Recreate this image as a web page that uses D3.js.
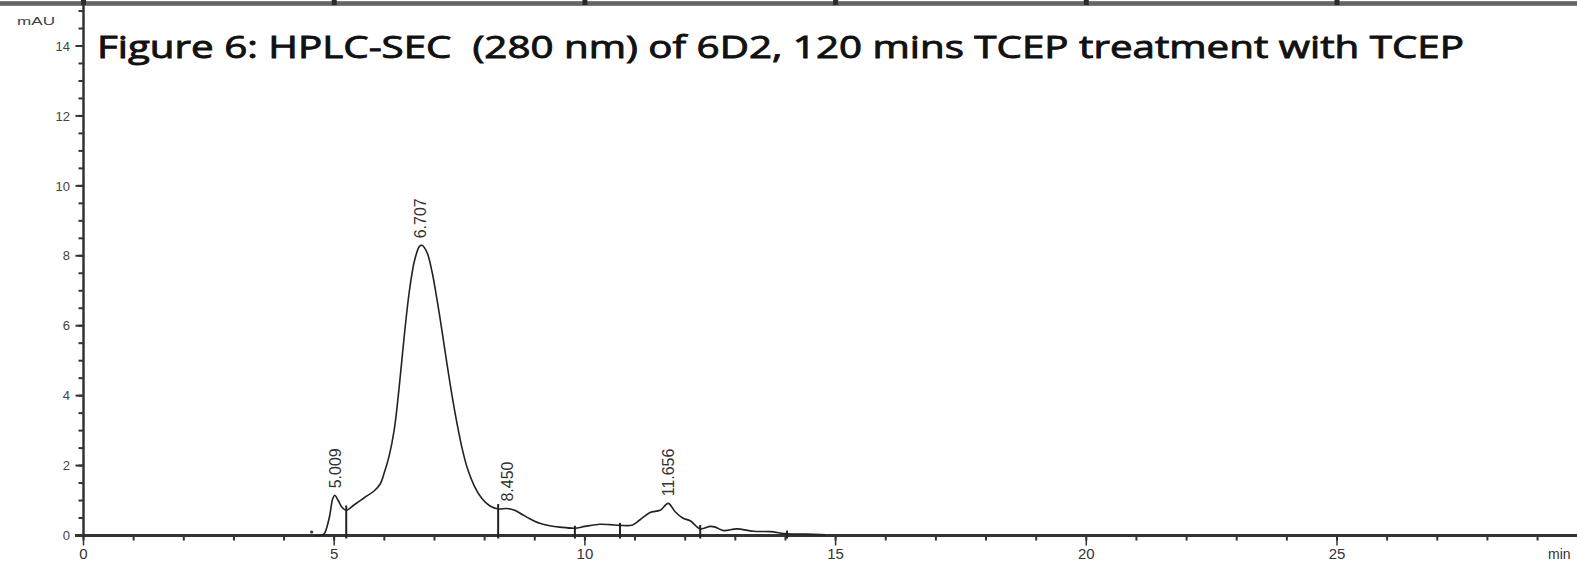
<!DOCTYPE html>
<html>
<head>
<meta charset="utf-8">
<script src="https://cdn.jsdelivr.net/npm/d3@7"></script>
<style>
  html, body { margin: 0; padding: 0; background: #fff; }
  svg { display: block; }
</style>
</head>
<body>
<svg id="chart"></svg>
<script>
// chromatogram trace (time in min, absorbance in mAU)
const times = [4.6, 4.72, 4.8, 4.9, 4.97, 5.01, 5.08, 5.16, 5.24, 5.4, 5.6, 5.8, 5.92, 6.0, 6.1, 6.2, 6.3,
  6.4, 6.5, 6.6, 6.7, 6.75, 6.85, 6.95, 7.05, 7.15, 7.25, 7.35, 7.45, 7.55, 7.65, 7.8, 7.95, 8.1,
  8.27, 8.45, 8.6, 8.75, 8.9, 9.1, 9.3, 9.5, 9.8, 10.0, 10.3, 10.5, 10.7, 10.95, 11.1, 11.3, 11.5,
  11.66, 11.8, 11.95, 12.1, 12.3, 12.5, 12.6, 12.77, 13.03, 13.36, 13.69, 14.03, 14.4, 14.8];
const mau = [0, 0, 0.05, 0.5, 1.05, 1.15, 1.0, 0.8, 0.72, 0.88, 1.08, 1.28, 1.48, 1.8, 2.3, 3.05, 4.3,
  5.75, 7.0, 7.85, 8.27, 8.3, 8.1, 7.55, 6.75, 5.85, 4.9, 4.0, 3.2, 2.5, 1.95, 1.4, 1.05, 0.85,
  0.76, 0.77, 0.72, 0.6, 0.48, 0.35, 0.28, 0.24, 0.21, 0.26, 0.32, 0.31, 0.29, 0.3, 0.45, 0.66, 0.72,
  0.92, 0.68, 0.5, 0.42, 0.19, 0.26, 0.24, 0.14, 0.19, 0.12, 0.11, 0.05, 0.04, 0.02];

// labelled peaks
const peakTimes = [5.009, 6.707, 8.45, 11.656];
const peakHeights = [1.15, 8.3, 0.77, 0.92];
const peakLabels = ["5.009", "6.707", "8.450", "11.656"];

// integration markers
const markerTimes = [5.24, 8.27, 9.8, 10.7, 12.3, 14.03];
const markerHeights = [0.86, 0.9, 0.28, 0.36, 0.3, 0.14];

// small blip before the first peak
const blipTimes = [4.55];
const blipValues = [0.1];

const yTicks = [0, 2, 4, 6, 8, 10, 12, 14];
const xTicks = [0, 5, 10, 15, 20, 25];
const topMarks = [0, 5, 10, 15, 20, 25];

const title = "Figure 6: HPLC-SEC  (280 nm) of 6D2, 120 mins TCEP treatment with TCEP";

const W = 1577, H = 561;
const svg = d3.select("#chart").attr("width", W).attr("height", H);
svg.append("rect").attr("width", W).attr("height", H).attr("fill", "#fff");

const x = d3.scaleLinear().domain([0, 25]).range([83.5, 1337]);
const y = d3.scaleLinear().domain([0, 14]).range([535.5, 46]);

// remnant border at the top
svg.append("rect").attr("x", 0).attr("y", 1).attr("width", W).attr("height", 5).attr("fill", "#7a7a7a");
svg.append("rect").attr("x", 0).attr("y", 2.5).attr("width", W).attr("height", 2).attr("fill", "#5e5e5e");
svg.selectAll(".topmark").data(topMarks).join("rect")
  .attr("class", "topmark")
  .attr("x", d => x(d) - 2.5).attr("y", 0).attr("width", 5).attr("height", 5)
  .attr("fill", "#2a2a2a");

// y axis
const yMinor = d3.range(0, 15.01, 0.5);
const yAxis = svg.append("g");
yAxis.append("line")
  .attr("x1", x(0)).attr("x2", x(0)).attr("y1", y(15.3)).attr("y2", y(0) + 2)
  .attr("stroke", "#333").attr("stroke-width", 2.5);
yAxis.selectAll(".yminor").data(yMinor).join("line")
  .attr("x1", x(0) - 5).attr("x2", x(0))
  .attr("y1", d => y(d)).attr("y2", d => y(d))
  .attr("stroke", "#333").attr("stroke-width", 2);
yAxis.selectAll(".ymajor").data(yTicks).join("line")
  .attr("x1", x(0) - 8).attr("x2", x(0))
  .attr("y1", d => y(d)).attr("y2", d => y(d))
  .attr("stroke", "#333").attr("stroke-width", 2);
yAxis.selectAll(".ylab").data(yTicks).join("text")
  .attr("x", 70).attr("y", d => y(d)).attr("dy", "0.36em")
  .attr("text-anchor", "end")
  .attr("font-family", "Liberation Sans, Arial, sans-serif")
  .attr("font-size", 13).attr("fill", "#444")
  .text(d => d);
yAxis.append("text")
  .attr("x", 17).attr("y", 25)
  .attr("font-family", "Liberation Sans, Arial, sans-serif")
  .attr("font-size", 11).attr("fill", "#444")
  .attr("textLength", 38).attr("lengthAdjust", "spacingAndGlyphs")
  .text("mAU");

// x axis
const xMinor = d3.range(0, 30, 1);
const xAxis = svg.append("g");
xAxis.append("line")
  .attr("x1", 75).attr("x2", W).attr("y1", y(0)).attr("y2", y(0))
  .attr("stroke", "#333").attr("stroke-width", 3);
xAxis.selectAll(".xminor").data(xMinor).join("line")
  .attr("x1", d => x(d)).attr("x2", d => x(d))
  .attr("y1", y(0)).attr("y2", y(0) + 5)
  .attr("stroke", "#333").attr("stroke-width", 2);
xAxis.selectAll(".xmajor").data(xTicks).join("line")
  .attr("x1", d => x(d)).attr("x2", d => x(d))
  .attr("y1", y(0)).attr("y2", y(0) + 10)
  .attr("stroke", "#333").attr("stroke-width", 1.5);
xAxis.selectAll(".xlab").data(xTicks).join("text")
  .attr("x", d => x(d)).attr("y", 559)
  .attr("text-anchor", "middle")
  .attr("font-family", "Liberation Sans, Arial, sans-serif")
  .attr("font-size", 15).attr("fill", "#333")
  .text(d => d);
xAxis.append("text")
  .attr("x", 1548).attr("y", 559)
  .attr("font-family", "Liberation Sans, Arial, sans-serif")
  .attr("font-size", 14).attr("fill", "#333")
  .text("min");

// trace
const trace = times.map((t, i) => [t, mau[i]]);
const line = d3.line().x(d => x(d[0])).y(d => y(d[1])).curve(d3.curveCatmullRom.alpha(0.5));
svg.append("path").datum(trace)
  .attr("d", line)
  .attr("fill", "none").attr("stroke", "#222").attr("stroke-width", 1.6);

svg.selectAll(".blip").data(blipTimes).join("circle")
  .attr("cx", d => x(d)).attr("cy", (d, i) => y(blipValues[i]))
  .attr("r", 1.6).attr("fill", "#333");

// integration markers
svg.selectAll(".marker").data(markerTimes).join("line")
  .attr("x1", d => x(d)).attr("x2", d => x(d))
  .attr("y1", y(0) + 3).attr("y2", (d, i) => y(markerHeights[i]))
  .attr("stroke", "#222").attr("stroke-width", 2);

// peak labels
svg.selectAll(".plab").data(peakTimes).join("text")
  .attr("transform", (d, i) => `translate(${x(d) + 6},${y(peakHeights[i]) - 7}) rotate(-90)`)
  .attr("font-family", "Liberation Sans, Arial, sans-serif")
  .attr("font-size", 16).attr("fill", "#333")
  .text((d, i) => peakLabels[i]);

// title (regular face, thickened a little with a thin stroke)
svg.append("text")
  .attr("x", 97).attr("y", 58)
  .attr("font-family", "Open Sans, Lato, sans-serif")
  .attr("font-size", 31).attr("fill", "#111")
  .attr("stroke", "#111").attr("stroke-width", 0.9)
  .attr("textLength", 1367).attr("lengthAdjust", "spacingAndGlyphs")
  .attr("xml:space", "preserve")
  .text(title);
</script>
</body>
</html>
